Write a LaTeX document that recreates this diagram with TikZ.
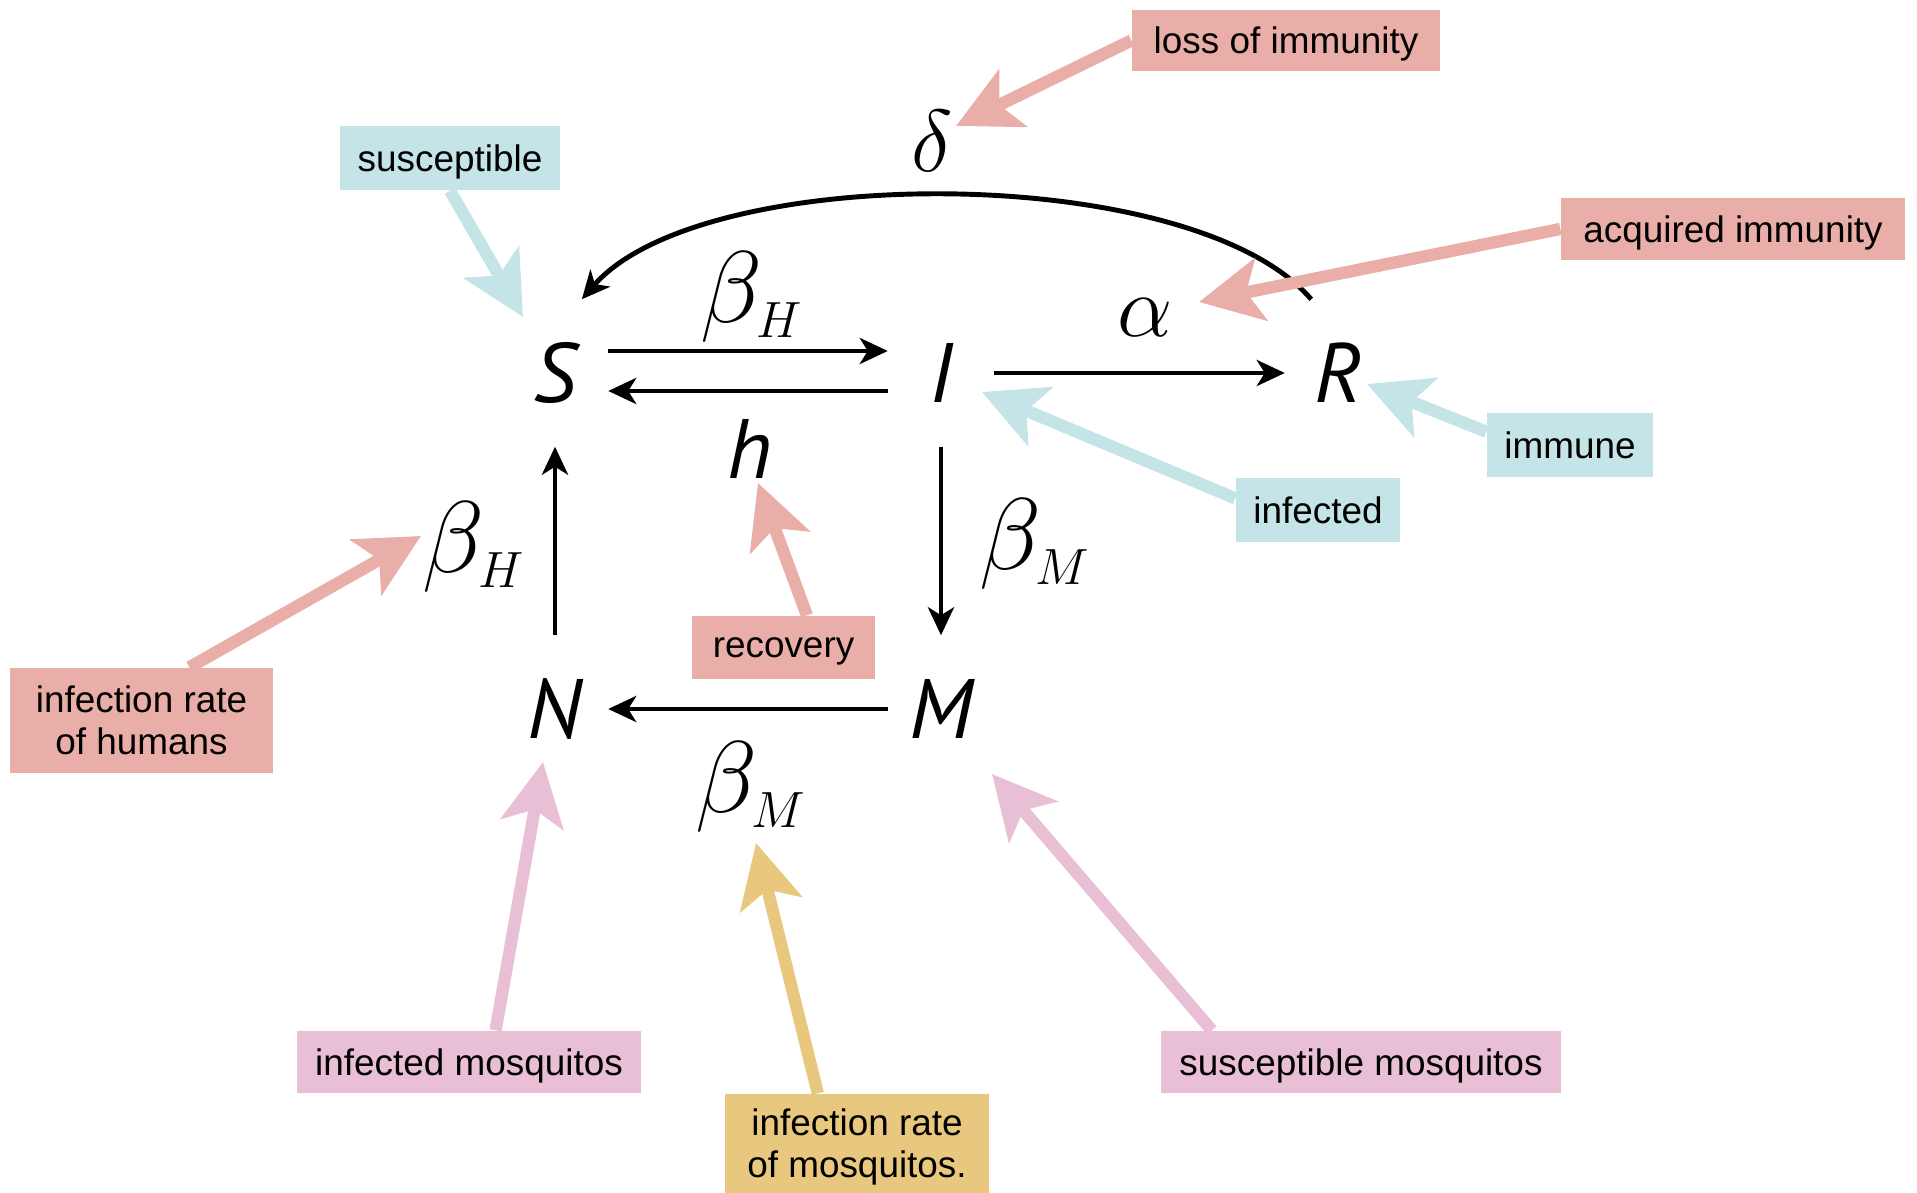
\documentclass[tikz,border=0pt]{standalone}
\usepackage{fix-cm}
\usepackage{fontspec}
\setmainfont{Liberation Sans}
\newfontfamily\statefont{PT Sans}
\usetikzlibrary{arrows.meta, backgrounds}
\definecolor{Rose}{HTML}{E9AEA8}
\definecolor{Sky}{HTML}{C5E4E8}
\definecolor{Mauve}{HTML}{E9BFD5}
\definecolor{Sand}{HTML}{E8C87E}
\tikzset{
    statenode/.style={minimum width=1.05cm, minimum height=1.46cm, inner sep=0pt, font=\statefont\itshape\fontsize{24}{28}\selectfont},
    letternode/.style={inner sep=0pt, font=\statefont\itshape\fontsize{24}{28}\selectfont},
    ratenode/.style={inner sep=0pt, font=\fontsize{25}{30}\selectfont},
    betanode/.style={inner sep=0pt, font=\fontsize{29}{35}\selectfont},
    tagbox/.style={rectangle, inner sep=0pt, text depth=0pt, align=center, text=black, font=\fontsize{10.5}{12}\selectfont},
    flow/.style={-{Stealth[length=2.8mm, width=2.6mm, inset=0.8mm]}, line width=1.4pt},
    pointer/.style={-{Stealth[length=6.3mm, width=6.3mm, inset=1.5mm]}, line width=3.5pt},
}

\begin{document}
\begin{tikzpicture}
    \useasboundingbox (0,0) rectangle (19.17,-11.93);

    % Compartments
    \node[statenode] (S) at (5.55,-3.73) {S};
    \node[statenode] (I) at (9.41,-3.73) {I};
    \node[statenode] (R) at (13.38,-3.73) {R};
    \node[statenode] (N) at (5.55,-7.09) {N};
    \node[statenode] (M) at (9.41,-7.09) {M};

    % Rates
    \node[betanode] (bHtop) at (7.52,-2.97) {$\beta_{\scriptscriptstyle H}$};
    \node[letternode] (recrate) at (7.50,-4.49) {h};
    \node[ratenode] (alpha) at (11.45,-3.18) {$\alpha$};
    \node[ratenode] (delta) at (9.32,-1.41) {$\delta$};
    \node[betanode] (bHleft) at (4.74,-5.47) {$\beta_{\scriptscriptstyle H}$};
    \node[betanode] (bMright) at (10.35,-5.44) {$\beta_{\scriptscriptstyle M}$};
    \node[betanode] (bMbottom) at (7.51,-7.87) {$\beta_{\scriptscriptstyle M}$};

    % Transitions
    \draw[flow] ([yshift=2.2mm]S.east) -- ([yshift=2.2mm]I.west);
    \draw[flow] ([yshift=-1.8mm]I.west) -- ([yshift=-1.8mm]S.east);
    \draw[flow] (I.east) -- (R.west);
    \draw[flow] (I.south) -- (M.north);
    \draw[flow] (M.west) -- (N.east);
    \draw[flow] (N.north) -- (S.south);

    % Labels
    \node[tagbox, fill=Rose, minimum width=3.08cm, minimum height=0.61cm] (lossbox) at (12.86,-0.405) {loss of immunity};
    \node[tagbox, fill=Sky, minimum width=2.20cm, minimum height=0.64cm] (susbox) at (4.50,-1.58) {susceptible};
    \node[tagbox, fill=Rose, minimum width=3.44cm, minimum height=0.62cm] (acqbox) at (17.33,-2.29) {acquired immunity};
    \node[tagbox, fill=Sky, minimum width=1.66cm, minimum height=0.64cm] (immbox) at (15.70,-4.45) {immune};
    \node[tagbox, fill=Sky, minimum width=1.64cm, minimum height=0.64cm] (infbox) at (13.18,-5.10) {infected};
    \node[tagbox, fill=Rose, minimum width=1.83cm, minimum height=0.63cm] (recbox) at (7.835,-6.475) {recovery};
    \node[tagbox, fill=Rose, minimum width=2.63cm, minimum height=1.05cm] (humbox) at (1.415,-7.205) {infection rate\\of humans};
    \node[tagbox, fill=Mauve, minimum width=3.44cm, minimum height=0.62cm] (imbox) at (4.69,-10.62) {infected mosquitos};
    \node[tagbox, fill=Sand, minimum width=2.64cm, minimum height=0.99cm] (rmbox) at (8.57,-11.435) {infection rate\\of mosquitos.};
    \node[tagbox, fill=Mauve, minimum width=4.00cm, minimum height=0.62cm] (smbox) at (13.61,-10.62) {susceptible mosquitos};

    % Pointer tips
    \coordinate (losstip) at (9.56,-1.26);
    \coordinate (sustip) at (5.23,-3.17);
    \coordinate (acqtip) at (11.99,-3.02);
    \coordinate (immtip) at (13.67,-3.84);
    \coordinate (inftip) at (9.82,-3.92);
    \coordinate (rectip) at (7.58,-4.83);
    \coordinate (humtip) at (4.21,-5.36);
    \coordinate (imtip) at (5.43,-7.62);
    \coordinate (rmtip) at (7.56,-8.43);
    \coordinate (smtip) at (9.92,-7.74);

    \begin{scope}[on background layer]
        % Loss of immunity
        \draw[flow] (R.110) .. controls (11.93,-1.61) and (7.02,-1.61) .. (S.70);

        % Pointers
        \draw[pointer, Rose] (lossbox.west) -- (losstip);
        \draw[pointer, Sky] (susbox.south) -- (sustip);
        \draw[pointer, Rose] (acqbox.west) -- (acqtip);
        \draw[pointer, Sky] (immbox.171) -- (immtip);
        \draw[pointer, Sky] (infbox.172) -- (inftip);
        \draw[pointer, Rose] (recbox.54) -- (rectip);
        \draw[pointer, Rose] (humbox.48) -- (humtip);
        \draw[pointer, Mauve] (imbox.50) -- (imtip);
        \draw[pointer, Sand] (rmbox.128) -- (rmtip);
        \draw[pointer, Mauve] (smbox.168) -- (smtip);
    \end{scope}
\end{tikzpicture}
\end{document}
